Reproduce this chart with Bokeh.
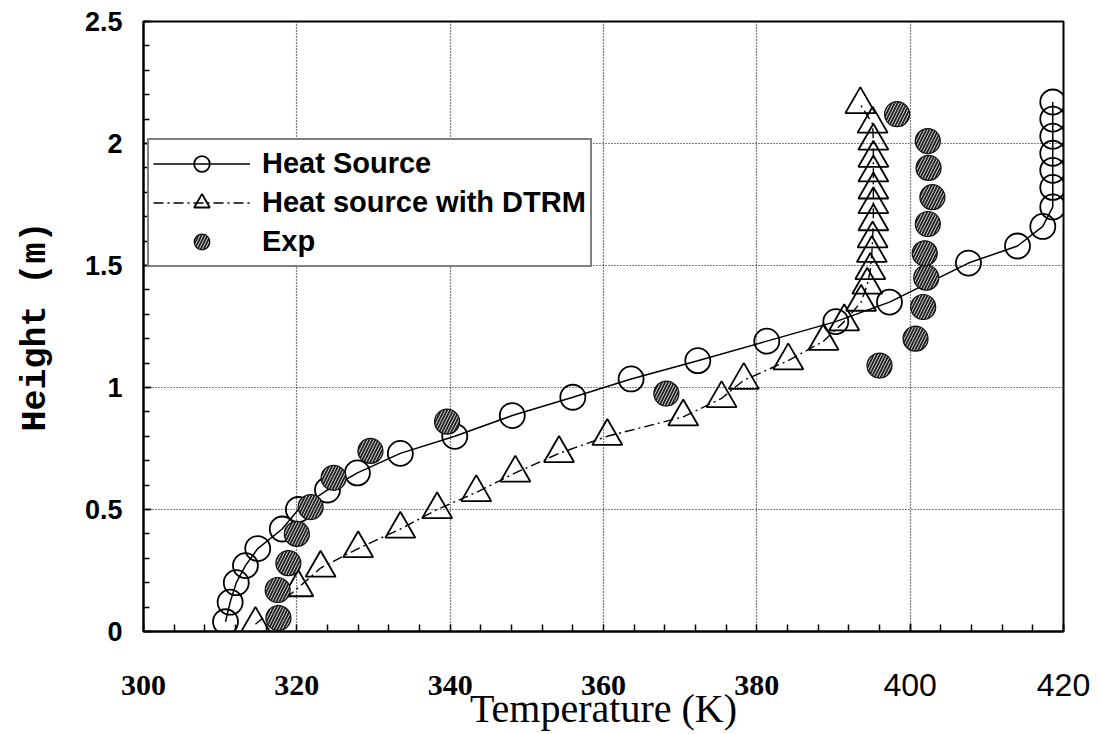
import numpy as np
from bokeh.plotting import figure
from bokeh.models import Range1d, FixedTicker, LinearAxis, ColumnDataSource
from bokeh.embed import file_html
from bokeh.resources import INLINE

# ---------------- data ----------------
hs_T = [310.7, 311.3, 312.1, 313.3, 314.9, 318.1, 320.2, 324.0, 327.9, 333.5,
        340.6, 348.1, 356.0, 363.6, 372.3, 381.3, 390.3, 397.3, 407.6, 414.0,
        417.3, 418.6, 418.6, 418.6, 418.6, 418.6, 418.6, 418.6]
hs_H = [0.04, 0.12, 0.20, 0.27, 0.34, 0.42, 0.50, 0.58, 0.65, 0.73,
        0.80, 0.885, 0.96, 1.035, 1.11, 1.19, 1.27, 1.35, 1.51, 1.58,
        1.66, 1.74, 1.82, 1.89, 1.96, 2.03, 2.10, 2.17]

dt_T = [314.6, 320.2, 323.1, 328.0, 333.5, 338.3, 343.4, 348.5, 354.2, 360.5,
        370.4, 375.4, 378.3, 384.1, 388.7, 391.4, 393.6, 394.4, 394.8, 395.0,
        395.1, 395.2, 395.2, 395.2, 395.2, 395.2, 395.2, 395.1, 393.5]
dt_H = [0.03, 0.18, 0.26, 0.34, 0.42, 0.50, 0.57, 0.65, 0.73, 0.80,
        0.88, 0.955, 1.03, 1.11, 1.19, 1.27, 1.35, 1.42, 1.48, 1.55,
        1.61, 1.68, 1.75, 1.81, 1.88, 1.94, 2.01, 2.08, 2.16]

exp_T = [317.6, 317.5, 318.9, 320.0, 321.8, 324.8, 329.6, 339.6, 368.2, 396.0,
         400.7, 401.7, 402.1, 401.9, 402.3, 402.9, 402.4, 402.3, 398.3]
exp_H = [0.055, 0.17, 0.28, 0.40, 0.51, 0.63, 0.74, 0.86, 0.975, 1.09,
         1.20, 1.33, 1.45, 1.55, 1.67, 1.78, 1.90, 2.01, 2.12]

x_ticks = [300, 320, 340, 360, 380, 400, 420]
x_tick_labels = ["300", "320", "340", "360", "380", "400", "420"]
y_ticks = [0, 0.5, 1.0, 1.5, 2.0, 2.5]
y_tick_labels = ["0", "0.5", "1", "1.5", "2", "2.5"]

series_names = ["Heat Source", "Heat source with DTRM", "Exp"]
x_title = "Temperature (K)"
y_title = "Height (m)"

# ---------------- figure ----------------
p = figure(width=1101, height=734, output_backend="svg", toolbar_location=None,
           x_range=Range1d(300, 420), y_range=Range1d(0, 2.5),
           min_border_left=143, min_border_right=38, min_border_top=21,
           min_border_bottom=103)
p.background_fill_color = "white"
p.border_fill_color = "white"
p.outline_line_color = "black"
p.outline_line_width = 2
p.outline_line_alpha = 1

# x axis, part 1 (next to the frame): ticks + the sans-serif labels 400 / 420
sans_ticks = [t for t in x_ticks if t >= 400]
serif_ticks = [t for t in x_ticks if t < 400]
xa = p.xaxis[0]
xa.ticker = FixedTicker(ticks=sans_ticks,
                        minor_ticks=list(np.arange(300, 420.1, 4)))
xa.major_label_overrides = {t: lab for t, lab in zip(x_ticks, x_tick_labels) if t >= 400}
xa.major_label_text_font = "Liberation Sans"
xa.major_label_text_font_style = "normal"
xa.major_label_text_font_size = "32px"
xa.major_label_text_color = "black"
xa.major_label_standoff = 42
xa.axis_line_width = 2
xa.axis_line_color = "black"
xa.major_tick_in = 8
xa.major_tick_out = 0
xa.minor_tick_in = 7
xa.minor_tick_out = 0
xa.major_tick_line_width = 1.5
xa.minor_tick_line_width = 1.5

# x axis, part 2 (stacked below): bold serif labels 300..380 + title
xb = LinearAxis(ticker=FixedTicker(ticks=serif_ticks, minor_ticks=[]))
xb.major_label_overrides = {t: lab for t, lab in zip(x_ticks, x_tick_labels) if t < 400}
xb.major_label_text_font = "Liberation Serif"
xb.major_label_text_font_style = "bold"
xb.major_label_text_font_size = "30px"
xb.major_label_text_color = "black"
xb.major_label_standoff = -29
xb.axis_line_color = None
xb.major_tick_line_color = None
xb.minor_tick_line_color = None
xb.axis_label = x_title
xb.axis_label_text_font = "Liberation Serif"
xb.axis_label_text_font_style = "normal"
xb.axis_label_text_font_size = "40px"
xb.axis_label_text_color = "black"
xb.axis_label_standoff = -12
p.add_layout(xb, "below")

# y axis
ya = p.yaxis[0]
ya.ticker = FixedTicker(ticks=y_ticks,
                        minor_ticks=list(np.round(np.arange(0, 2.51, 0.1), 2)))
ya.major_label_overrides = {t: lab for t, lab in zip(y_ticks, y_tick_labels)}
ya.major_label_text_font = "Liberation Sans"
ya.major_label_text_font_style = "bold"
ya.major_label_text_font_size = "27px"
ya.major_label_text_color = "black"
ya.major_label_standoff = 21
ya.axis_label = y_title
ya.axis_label_text_font = "Liberation Mono"
ya.axis_label_text_font_style = "bold"
ya.axis_label_text_font_size = "35px"
ya.axis_label_text_color = "black"
ya.axis_label_standoff = 26
ya.axis_line_width = 2
ya.axis_line_color = "black"
ya.major_tick_in = 8
ya.major_tick_out = 0
ya.minor_tick_in = 6
ya.minor_tick_out = 0
ya.major_tick_line_width = 1.5
ya.minor_tick_line_width = 1.5

# grid (dotted)
p.xgrid[0].ticker = FixedTicker(ticks=x_ticks)
p.ygrid[0].ticker = FixedTicker(ticks=y_ticks)
for g in (p.xgrid[0], p.ygrid[0]):
    g.grid_line_color = "black"
    g.grid_line_alpha = 1
    g.grid_line_width = 1.2
    g.grid_line_dash = "1 2"

# ---------------- glyphs ----------------
hs_src = ColumnDataSource(dict(x=hs_T, y=hs_H))
dt_src = ColumnDataSource(dict(x=dt_T, y=dt_H))
ex_src = ColumnDataSource(dict(x=exp_T, y=exp_H))

p.line("x", "y", source=hs_src, line_color="black", line_width=1.5,
       legend_label=series_names[0])
p.scatter("x", "y", source=hs_src, marker="circle", size=25, fill_color=None,
          line_color="black", line_width=1.8, legend_label=series_names[0])

p.line("x", "y", source=dt_src, line_color="black", line_width=1.4,
       line_dash="10 4 2 4", legend_label=series_names[1])
p.scatter("x", "y", source=dt_src, marker="triangle", size=30, fill_color=None,
          line_color="black", line_width=1.8, legend_label=series_names[1])

p.scatter("x", "y", source=ex_src, marker="circle", size=25, fill_color="#262626",
          line_color="#111111", line_width=1.2, hatch_pattern="/",
          hatch_color="#c8c8c8", hatch_scale=6, hatch_weight=1,
          legend_label=series_names[2])

# ---------------- legend ----------------
lg = p.legend[0]
lg.location = (4, 364)
lg.margin = 0
lg.padding = 4
lg.spacing = 0
lg.glyph_width = 97
lg.glyph_height = 39
lg.label_height = 39
lg.label_standoff = 12
lg.label_text_font = "Liberation Sans"
lg.label_text_font_style = "bold"
lg.label_text_font_size = "29px"
lg.label_text_color = "black"
lg.border_line_color = "black"
lg.border_line_width = 2
lg.background_fill_color = "white"
lg.background_fill_alpha = 1

open("out.html", "w").write(file_html(p, INLINE))
